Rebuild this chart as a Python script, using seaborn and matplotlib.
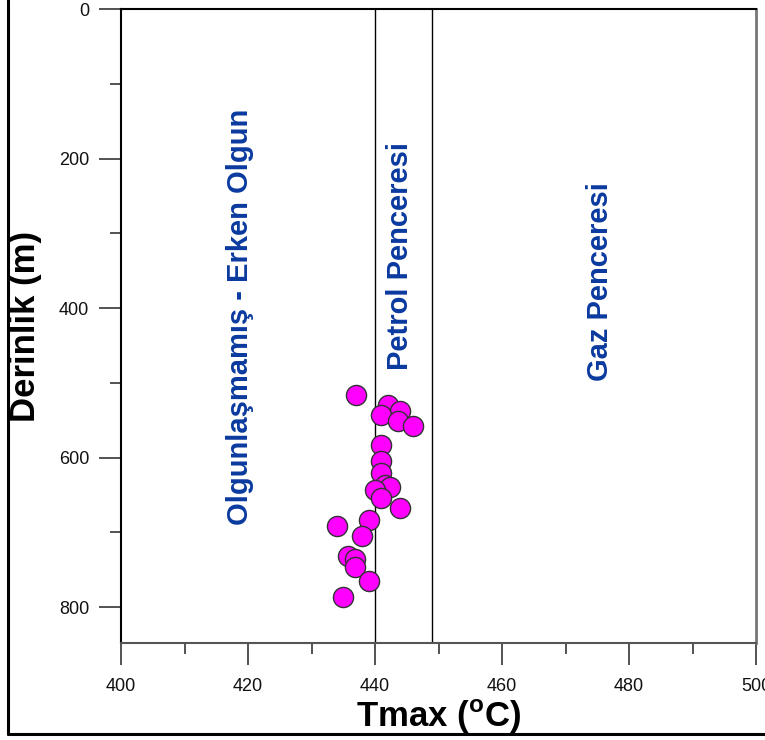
import matplotlib
matplotlib.use("Agg")
import matplotlib.pyplot as plt
from matplotlib.lines import Line2D
from matplotlib.ticker import MultipleLocator
import pandas as pd
import seaborn as sns

# Rock-Eval Tmax against sample depth
tmax = [437, 442, 444, 441, 443.7, 446, 441, 441, 441, 441.6, 442.4, 440, 441,
        444, 439, 434, 438, 435.8, 436.8, 436.8, 439, 435]
depth = [516, 529, 538, 543, 551, 558, 583, 604, 621, 636, 640, 643, 654,
         668, 684, 692, 705, 731, 736, 746, 765, 787]

# Maturity zone boundaries (Tmax, °C) and zone labels
boundaries = [440, 449]
zone_names = ["Olgunlaşmamış - Erken Olgun", "Petrol Penceresi", "Gaz Penceresi"]
zone_x = [418.8, 443.9, 475.4]
zone_y = [412, 331, 364]

x_ticks = [400, 420, 440, 460, 480, 500]
y_ticks = [0, 200, 400, 600, 800]

sns.set_style("white")
plt.rcParams["font.family"] = ["Liberation Sans", "DejaVu Sans"]
plt.rcParams["mathtext.fontset"] = "custom"
plt.rcParams["mathtext.rm"] = "Liberation Sans:bold"
plt.rcParams["mathtext.bf"] = "Liberation Sans:bold"

df = pd.DataFrame({"Tmax": tmax, "Derinlik": depth})

fig = plt.figure(figsize=(7.65, 7.40), dpi=100)
ax = fig.add_axes([121 / 765, 1 - 643 / 740, (756 - 121) / 765, (643 - 9) / 740])

for b in boundaries:
    ax.axvline(b, color="black", lw=1.0, zorder=1)

sns.scatterplot(data=df, x="Tmax", y="Derinlik", ax=ax, s=210,
                color="#ff00ff", edgecolor="#333333", linewidth=1.0, zorder=3)

blue = "#0a3a9e"
for name, xx, yy in zip(zone_names, zone_x, zone_y):
    ax.text(xx, yy, name, rotation=90, ha="center", va="center",
            fontsize=21, fontweight="bold", color=blue)

ax.set_xlim(400, 500)
ax.set_ylim(848, 0)
ax.set_xticks(x_ticks)
ax.set_yticks(y_ticks)
ax.xaxis.set_minor_locator(MultipleLocator(10))
ax.yaxis.set_minor_locator(MultipleLocator(100))

ax.tick_params(axis="both", which="major", direction="out", length=16,
               width=1.3, labelsize=13, colors="#444444", labelcolor="#111111")
ax.tick_params(axis="both", which="minor", direction="out", length=8,
               width=1.3, colors="#444444")
ax.tick_params(axis="x", which="major", pad=9, bottom=True)
ax.tick_params(axis="x", which="minor", bottom=True)
ax.tick_params(axis="y", which="major", pad=7, left=True)
ax.tick_params(axis="y", which="minor", left=True)

ax.spines["left"].set_color("black")
ax.spines["left"].set_linewidth(1.5)
ax.spines["top"].set_color("black")
ax.spines["top"].set_linewidth(1.5)
ax.spines["bottom"].set_color("#555555")
ax.spines["bottom"].set_linewidth(1.5)
ax.spines["right"].set_color("#777777")
ax.spines["right"].set_linewidth(2.0)

ax.set_xlabel(r"Tmax ($^{\mathbf{o}}$C)", fontsize=25, fontweight="bold",
              color="black", labelpad=2)
ax.set_ylabel("Derinlik (m)", fontsize=25, fontweight="bold",
              color="black", labelpad=12)

# Outer frame around the figure
fig.add_artist(Line2D([7.5 / 765, 7.5 / 765], [1 - 734 / 740, 1.0],
                      transform=fig.transFigure, color="black", lw=2.2))
fig.add_artist(Line2D([7.5 / 765, 1.0], [1 - 734 / 740, 1 - 734 / 740],
                      transform=fig.transFigure, color="black", lw=2.2))

fig.savefig("out.png", dpi=100)
